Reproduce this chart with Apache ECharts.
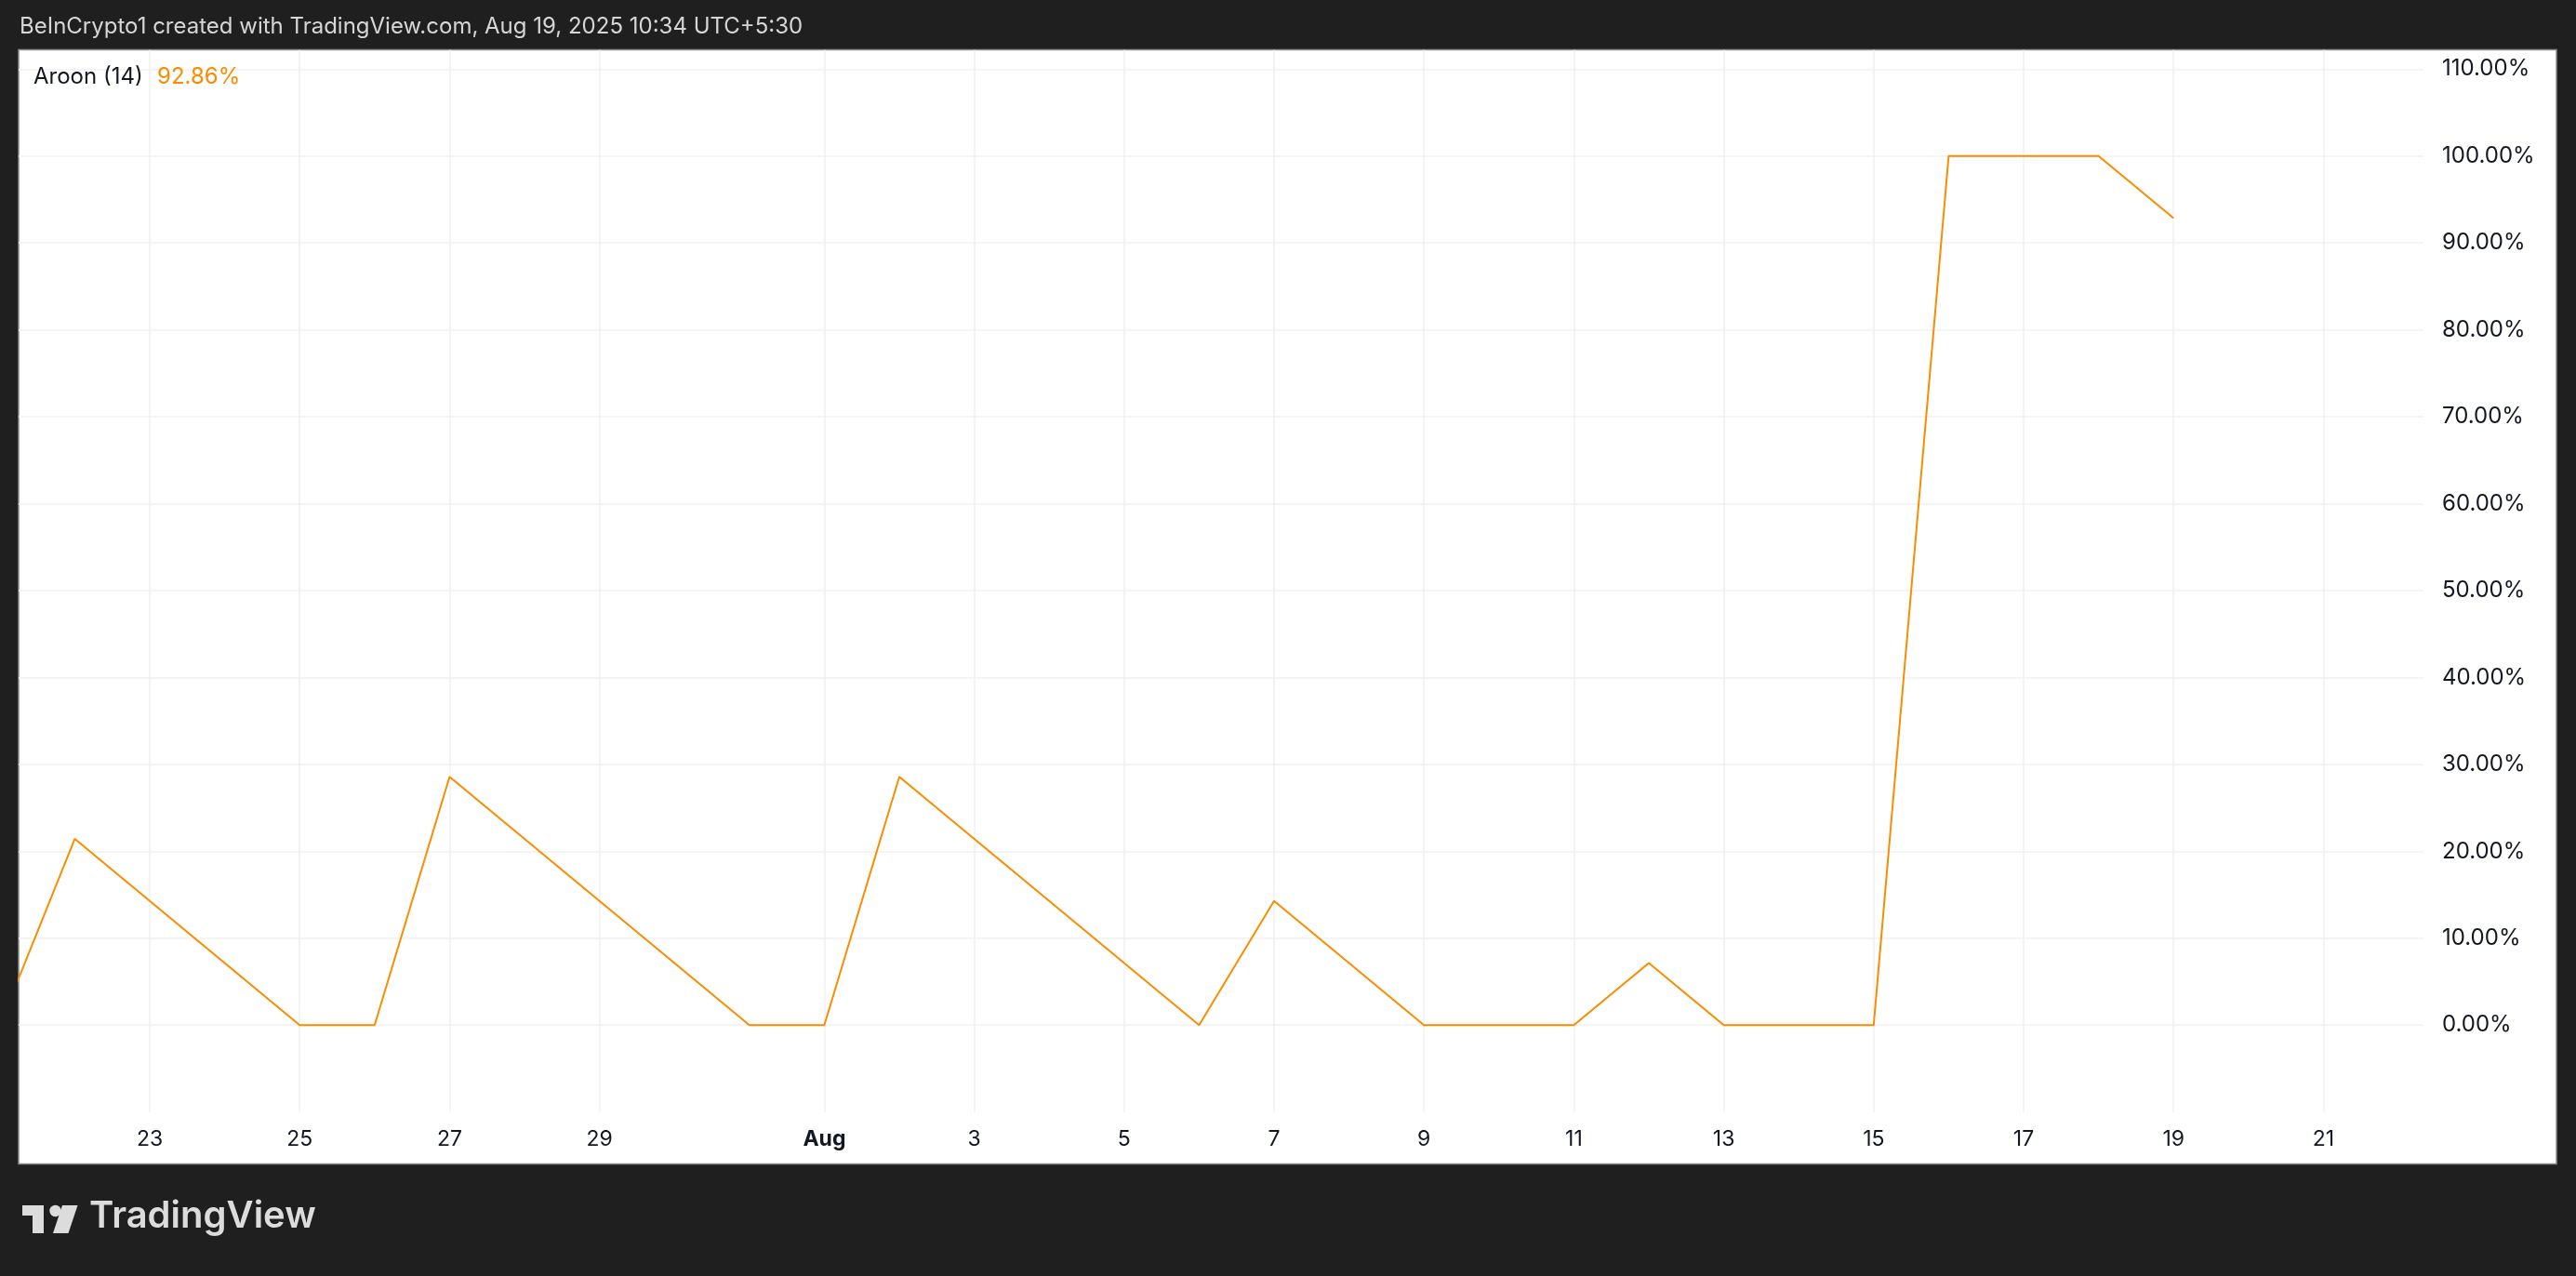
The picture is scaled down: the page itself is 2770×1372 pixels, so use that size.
<!DOCTYPE html>
<html>
<head>
<meta charset="utf-8">
<script src="https://cdn.jsdelivr.net/npm/echarts@6/dist/echarts.min.js"></script>
<style>
html,body{margin:0;padding:0;background:#1f1f1f;}
#chart{width:2770px;height:1372px;}
</style>
</head>
<body>
<div id="chart"></div>
<script>
// ---- data ----
const dates = ['2025-07-21','2025-07-22','2025-07-23','2025-07-24','2025-07-25','2025-07-26','2025-07-27','2025-07-28','2025-07-29','2025-07-30','2025-07-31',
  '2025-08-01','2025-08-02','2025-08-03','2025-08-04','2025-08-05','2025-08-06','2025-08-07','2025-08-08','2025-08-09','2025-08-10',
  '2025-08-11','2025-08-12','2025-08-13','2025-08-14','2025-08-15','2025-08-16','2025-08-17','2025-08-18','2025-08-19'];
const aroonUp = [0, 21.43, 14.29, 7.14, 0, 0, 28.57, 21.43, 14.29, 7.14, 0,
  0, 28.57, 21.43, 14.29, 7.14, 0, 14.29, 7.14, 0, 0,
  0, 7.14, 0, 0, 0, 100, 100, 100, 92.86];
const xTickDates = ['2025-07-23','2025-07-25','2025-07-27','2025-07-29','2025-08-01','2025-08-03','2025-08-05','2025-08-07',
  '2025-08-09','2025-08-11','2025-08-13','2025-08-15','2025-08-17','2025-08-19','2025-08-21'];
const xTickLabels = ['23','25','27','29','Aug','3','5','7','9','11','13','15','17','19','21'];
const yTicks = [0,10,20,30,40,50,60,70,80,90,100,110];
const seriesName = 'Aroon (14)';
const headerText = 'BeInCrypto1 created with TradingView.com, Aug 19, 2025 10:34 UTC+5:30';

// ---- build ----
const DAY = 86400000;
const t0 = Date.parse(dates[0]);
const dayIdx = d => Math.round((Date.parse(d) - t0) / DAY);
const seriesData = dates.map((d, i) => [dayIdx(d), aroonUp[i]]);
const xTickPos = xTickDates.map(dayIdx);
const lastVal = aroonUp[aroonUp.length - 1];

const FONT = 'Inter, "Noto Sans", sans-serif';
const ORANGE = '#FB8C00';
const GRID_COLOR = '#f0f0f2';

const chart = echarts.init(document.getElementById('chart'));
chart.setOption({
  backgroundColor: '#1f1f1f',
  animation: false,
  grid: { left: 20, right: 164, top: 53.7, bottom: 176.3 },
  xAxis: {
    type: 'value',
    min: 0.25,
    max: 32.335,
    axisLine: { show: false },
    axisTick: { show: false, customValues: xTickPos },
    splitLine: { show: true, lineStyle: { color: GRID_COLOR, width: 1.5 } },
    axisLabel: {
      customValues: xTickPos,
      margin: 18,
      color: '#131722',
      fontFamily: FONT,
      fontSize: 23,
      formatter: function (v) {
        const k = xTickPos.indexOf(Math.round(v));
        if (k < 0) return '';
        const s = xTickLabels[k];
        return /^[A-Za-z]/.test(s) ? '{b|' + s + '}' : s;
      },
      rich: { b: { fontWeight: 'bold', fontSize: 23, fontFamily: FONT, color: '#131722' } }
    }
  },
  yAxis: {
    type: 'value',
    position: 'right',
    min: -10,
    max: 112.2,
    axisLine: { show: false },
    axisTick: { show: false, customValues: yTicks },
    splitLine: { show: true, lineStyle: { color: GRID_COLOR, width: 1.5 } },
    axisLabel: {
      customValues: yTicks,
      margin: 20,
      color: '#131722',
      fontFamily: FONT,
      fontSize: 24,
      formatter: v => v.toFixed(2) + '%'
    }
  },
  series: [{
    name: seriesName,
    type: 'line',
    data: seriesData,
    symbol: 'none',
    clip: true,
    lineStyle: { color: ORANGE, width: 2 },
    z: 5
  }],
  graphic: [
    { type: 'rect', z: -10, silent: true,
      shape: { x: 20, y: 53.5, width: 2729, height: 1198 },
      style: { fill: '#ffffff', stroke: '#8a8a8a', lineWidth: 1.5 } },
    { type: 'text', left: 21, top: 17, silent: true,
      style: { text: headerText, fill: '#d6d6d6', font: '24px ' + FONT } },
    { type: 'text', left: 36, top: 71, silent: true, z: 10,
      style: { text: seriesName, fill: '#131722', font: '24px ' + FONT } },
    { type: 'text', left: 169, top: 71, silent: true, z: 10,
      style: { text: lastVal.toFixed(2) + '%', fill: ORANGE, font: '24px ' + FONT } },
    // TradingView logo
    { type: 'polygon', silent: true,
      shape: { points: [[24,1296],[47,1296],[47,1326],[35,1326],[35,1307],[24,1307]] },
      style: { fill: '#dcdcdc' } },
    { type: 'circle', silent: true,
      shape: { cx: 59.5, cy: 1302, r: 6.2 },
      style: { fill: '#dcdcdc' } },
    { type: 'polygon', silent: true,
      shape: { points: [[67,1296],[83.5,1296],[73.5,1326],[57,1326]] },
      style: { fill: '#dcdcdc' } },
    { type: 'text', left: 96, top: 1288, silent: true,
      style: { text: 'TradingView', fill: '#dcdcdc', font: '600 40px ' + FONT } }
  ]
});
</script>
</body>
</html>
